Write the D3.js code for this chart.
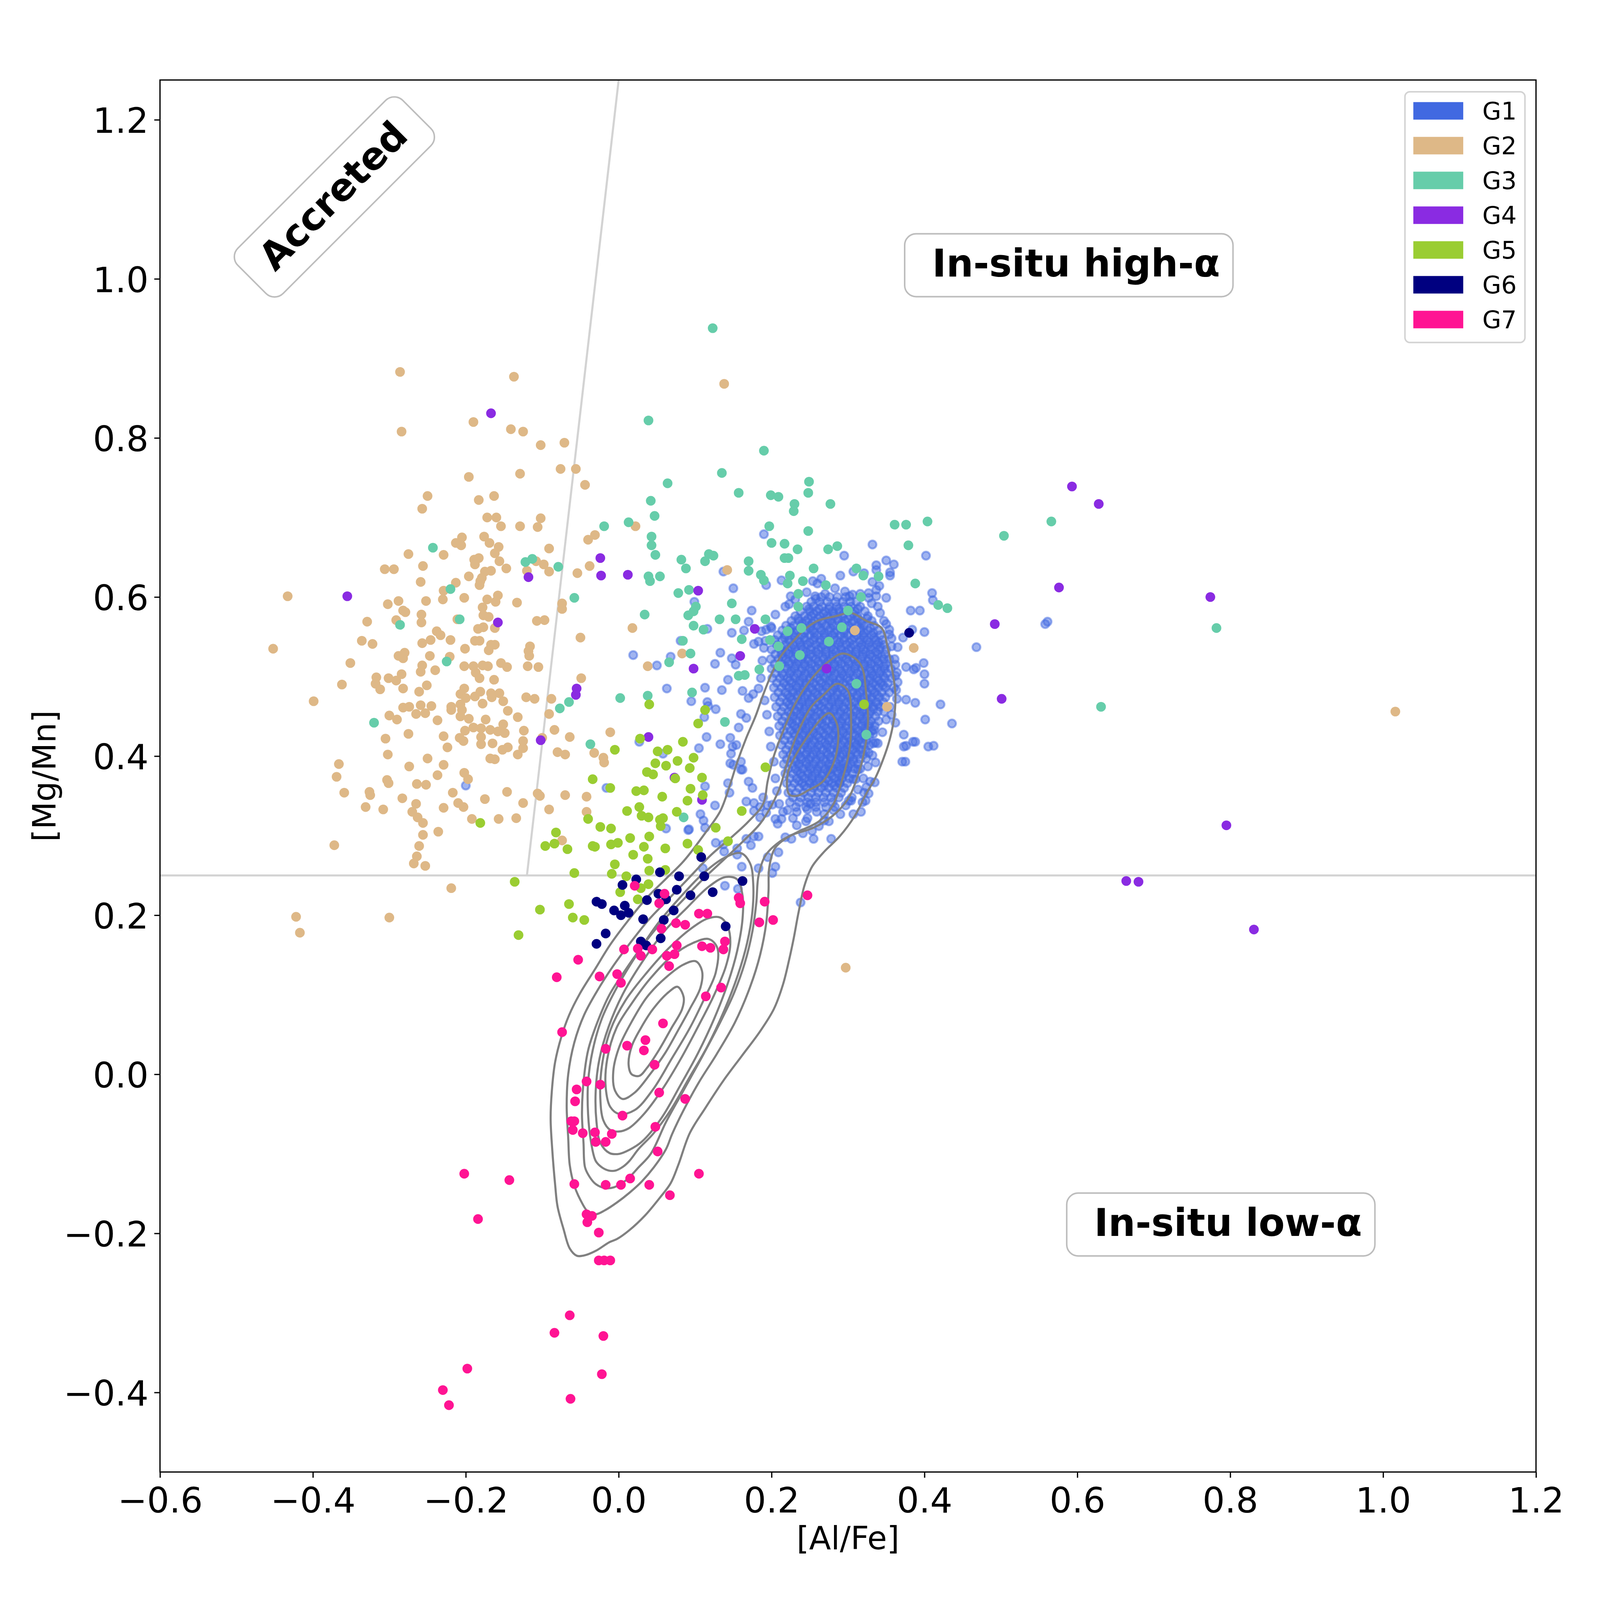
<!DOCTYPE html>
<html>
<head>
<meta charset="utf-8">
<script src="https://cdn.jsdelivr.net/npm/d3@7/dist/d3.min.js"></script>
<style>
  html, body { margin: 0; padding: 0; background: #fff; overflow: hidden; }
  svg { display: block; width: 100vw; height: 100vh; }
</style>
</head>
<body>
<script>
const W = 4200, H = 4200;
const M = { left: 420, right: 4032, top: 210, bottom: 3864 };
const FONT = '"DejaVu Sans", sans-serif';

const xDomain = [-0.6, 1.2];
const yDomain = [-0.5, 1.25];
const xTicks = [-0.6, -0.4, -0.2, 0.0, 0.2, 0.4, 0.6, 0.8, 1.0, 1.2];
const yTicks = [-0.4, -0.2, 0.0, 0.2, 0.4, 0.6, 0.8, 1.0, 1.2];

const groups = ['G1', 'G2', 'G3', 'G4', 'G5', 'G6', 'G7'];
const colors = {
  G1: '#4169e1', G2: '#deb887', G3: '#66cdaa', G4: '#8a2be2',
  G5: '#9acd32', G6: '#000080', G7: '#ff1493',
};

// [Al/Fe], [Mg/Mn]
const g1Sparse = [
  [0.190,0.679],[0.332,0.666],[0.295,0.652],[0.350,0.646],[0.360,0.641],[0.337,0.640],[0.402,0.652],[0.355,0.631],
  [0.355,0.627],[0.337,0.634],[0.290,0.627],[0.307,0.632],[0.321,0.630],[0.213,0.621],[0.265,0.623],[0.254,0.620],
  [0.260,0.617],[0.193,0.615],[0.150,0.611],[0.137,0.632],[0.332,0.619],[0.341,0.614],[0.337,0.609],[0.410,0.605],
  [0.411,0.596],[0.350,0.599],[0.327,0.605],[0.327,0.599],[0.337,0.601],[0.296,0.607],[0.302,0.601],[0.306,0.603],
  [0.270,0.604],[0.257,0.601],[0.258,0.598],[0.225,0.601],[0.223,0.591],[0.099,0.594],[0.174,0.583],[0.148,0.555],
  [0.164,0.558],[0.170,0.569],[0.116,0.560],[0.382,0.583],[0.394,0.583],[0.339,0.588],[0.347,0.570],[0.357,0.548],
  [0.354,0.559],[0.354,0.553],[0.400,0.556],[0.372,0.549],[0.365,0.537],[0.384,0.559],[0.376,0.512],[0.386,0.509],
  [0.389,0.511],[0.399,0.517],[0.400,0.503],[0.400,0.491],[0.388,0.467],[0.421,0.465],[0.436,0.441],[0.401,0.446],
  [0.373,0.427],[0.388,0.418],[0.412,0.413],[0.376,0.413],[0.375,0.393],[0.468,0.537],[0.561,0.569],[0.362,0.515],
  [0.362,0.501],[0.365,0.493],[0.363,0.483],[0.364,0.472],[0.376,0.471],[0.357,0.452],[0.362,0.442],[0.336,0.417],
  [0.334,0.433],[0.323,0.425],[0.327,0.404],[0.324,0.397],[0.336,0.392],[0.316,0.384],[0.310,0.371],[0.324,0.361],
  [0.327,0.353],[0.323,0.344],[0.304,0.344],[0.335,0.367],[0.050,0.514],[0.019,0.527],[0.063,0.485],[0.068,0.525],
  [0.081,0.545],[0.116,0.468],[0.117,0.463],[0.113,0.486],[0.126,0.516],[0.133,0.530],[0.135,0.483],[0.127,0.459],
  [0.112,0.449],[0.148,0.523],[0.153,0.515],[0.143,0.496],[0.162,0.482],[0.160,0.453],[0.167,0.448],[0.157,0.436],
  [0.146,0.423],[0.154,0.414],[0.147,0.403],[0.150,0.389],[0.162,0.383],[0.170,0.473],[0.176,0.478],[0.183,0.485],
  [0.187,0.557],[0.193,0.559],[0.200,0.561],[0.177,0.541],[0.183,0.544],[0.190,0.536],[0.558,0.566],
  [-0.200,0.363],[0.027,0.418],[0.058,0.403],[-0.016,0.360],[0.062,0.309],[0.092,0.308],[0.095,0.469],
  [0.138,0.280],[0.127,0.291],[0.137,0.289],[0.155,0.284],[0.155,0.276],[0.167,0.296],[0.173,0.288],[0.177,0.299],
  [0.183,0.299],[0.161,0.261],[0.183,0.259],[0.195,0.273],[0.205,0.261],[0.209,0.279],[0.201,0.253],[0.218,0.298],
  [0.226,0.296],[0.241,0.303],[0.255,0.296],[0.233,0.313],[0.213,0.321],[0.208,0.315],[0.247,0.322],[0.269,0.319],
  [0.278,0.296],[0.253,0.306],[0.139,0.237],[0.156,0.233],[0.238,0.216],[0.405,0.412],[0.373,0.412],[0.371,0.393],
  [0.385,0.418],[0.333,0.416],[0.333,0.428],[0.329,0.368],[0.321,0.354],[0.319,0.342],[0.317,0.330],[0.307,0.327],
  [0.301,0.344],[0.313,0.383],[0.307,0.371],[0.295,0.385],[0.289,0.366],[0.277,0.383],[0.170,0.368],[0.175,0.360],
  [0.167,0.343],[0.177,0.341],[0.177,0.331],[0.185,0.336],[0.189,0.348],[0.195,0.338],[0.201,0.339],[0.185,0.323],
  [0.193,0.329],[0.205,0.321],[0.221,0.332],[0.233,0.330],[0.247,0.333],[0.251,0.340],[0.259,0.330],[0.269,0.327],
  [0.281,0.332],[0.115,0.424],[0.105,0.410],[0.133,0.415],[0.149,0.412],[0.160,0.393],[0.160,0.383],[0.146,0.391],
  [0.143,0.366],[0.145,0.354],[0.126,0.338],[0.113,0.362],[0.107,0.327],[0.113,0.310],[0.091,0.307],[0.111,0.319],
  [0.110,0.259],
  // fringe round the dense core
  [0.188,0.520],[0.186,0.498],[0.191,0.470],[0.194,0.452],[0.197,0.431],[0.199,0.412],[0.203,0.393],[0.205,0.372],
  [0.207,0.356],[0.210,0.340],[0.215,0.330],[0.192,0.545],[0.199,0.563],[0.205,0.578],[0.218,0.588],[0.231,0.597],
  [0.246,0.606],[0.283,0.611],[0.316,0.604],[0.331,0.592],[0.342,0.580],[0.350,0.566],[0.357,0.538],[0.361,0.522],
  [0.364,0.505],[0.360,0.486],[0.355,0.462],[0.350,0.446],[0.345,0.430],[0.339,0.416],[0.332,0.401],[0.326,0.387],
  [0.320,0.372],[0.313,0.358],[0.305,0.348],[0.297,0.338],[0.290,0.327],[0.275,0.318],[0.262,0.312],[0.245,0.318],
  [0.228,0.322],
];

// dense G1 core, read row by row: [Mg/Mn], list of [Al/Fe]
const g1CoreRows = [
  [0.600, [0.265,0.276,0.286,0.297]],
  [0.594, [0.252,0.263,0.273,0.284,0.293,0.303,0.311]],
  [0.588, [0.246,0.255,0.266,0.276,0.285,0.295,0.304,0.316]],
  [0.582, [0.238,0.250,0.259,0.270,0.280,0.289,0.300,0.309,0.322]],
  [0.576, [0.231,0.243,0.252,0.263,0.273,0.282,0.293,0.303,0.312,0.326]],
  [0.570, [0.226,0.236,0.245,0.256,0.266,0.277,0.287,0.296,0.307,0.317,0.331]],
  [0.564, [0.219,0.229,0.240,0.251,0.260,0.271,0.281,0.292,0.301,0.312,0.321,0.334]],
  [0.558, [0.214,0.224,0.234,0.245,0.254,0.265,0.275,0.286,0.295,0.306,0.316,0.326,0.339]],
  [0.552, [0.208,0.218,0.229,0.239,0.250,0.259,0.270,0.280,0.290,0.300,0.311,0.320,0.331,0.342]],
  [0.546, [0.204,0.214,0.223,0.234,0.244,0.255,0.264,0.275,0.285,0.295,0.305,0.316,0.325,0.336,0.345]],
  [0.540, [0.207,0.218,0.228,0.238,0.247,0.258,0.268,0.277,0.288,0.298,0.307,0.318,0.327,0.338,0.347]],
  [0.534, [0.200,0.211,0.221,0.231,0.241,0.251,0.261,0.271,0.281,0.291,0.301,0.311,0.320,0.330,0.341,0.350]],
  [0.528, [0.205,0.213,0.222,0.232,0.242,0.251,0.261,0.271,0.280,0.291,0.300,0.310,0.320,0.329,0.339,0.348]],
  [0.522, [0.199,0.209,0.219,0.229,0.239,0.248,0.258,0.268,0.278,0.288,0.298,0.308,0.317,0.327,0.337,0.347,0.354]],
  [0.516, [0.204,0.213,0.223,0.233,0.243,0.252,0.262,0.272,0.282,0.291,0.301,0.311,0.321,0.330,0.340,0.350]],
  [0.510, [0.200,0.210,0.220,0.230,0.240,0.250,0.260,0.269,0.279,0.289,0.299,0.309,0.319,0.329,0.338,0.348,0.356]],
  [0.504, [0.205,0.214,0.224,0.234,0.244,0.253,0.263,0.273,0.283,0.292,0.302,0.312,0.322,0.331,0.341,0.351]],
  [0.498, [0.201,0.211,0.221,0.231,0.241,0.250,0.260,0.270,0.280,0.290,0.299,0.309,0.319,0.329,0.338,0.348,0.357]],
  [0.492, [0.207,0.216,0.226,0.236,0.245,0.255,0.265,0.275,0.284,0.294,0.304,0.314,0.323,0.333,0.343,0.352]],
  [0.486, [0.203,0.213,0.223,0.233,0.243,0.252,0.262,0.272,0.282,0.291,0.301,0.311,0.321,0.330,0.340,0.349]],
  [0.480, [0.209,0.218,0.228,0.238,0.247,0.257,0.267,0.277,0.286,0.296,0.306,0.316,0.325,0.335,0.344,0.354]],
  [0.474, [0.204,0.214,0.224,0.234,0.243,0.253,0.263,0.273,0.282,0.292,0.302,0.312,0.321,0.331,0.341,0.349]],
  [0.468, [0.211,0.220,0.230,0.240,0.249,0.259,0.269,0.279,0.288,0.298,0.308,0.318,0.327,0.337,0.346]],
  [0.462, [0.206,0.216,0.226,0.236,0.245,0.255,0.265,0.275,0.284,0.294,0.304,0.314,0.323,0.333,0.342]],
  [0.456, [0.213,0.222,0.232,0.242,0.251,0.261,0.271,0.281,0.290,0.300,0.310,0.320,0.329,0.339,0.347]],
  [0.450, [0.208,0.218,0.228,0.238,0.247,0.257,0.267,0.277,0.286,0.296,0.306,0.316,0.325,0.336]],
  [0.444, [0.214,0.223,0.233,0.243,0.252,0.262,0.272,0.282,0.291,0.301,0.311,0.321,0.330,0.340]],
  [0.438, [0.210,0.220,0.230,0.240,0.249,0.259,0.269,0.279,0.288,0.298,0.308,0.318,0.327,0.335]],
  [0.432, [0.216,0.225,0.235,0.245,0.254,0.264,0.274,0.284,0.293,0.303,0.313,0.323,0.331]],
  [0.426, [0.211,0.221,0.231,0.241,0.250,0.260,0.270,0.280,0.289,0.299,0.309,0.319,0.328]],
  [0.420, [0.217,0.226,0.236,0.246,0.255,0.265,0.275,0.285,0.294,0.304,0.314,0.324]],
  [0.414, [0.213,0.223,0.233,0.243,0.252,0.262,0.272,0.282,0.291,0.301,0.311,0.321,0.328]],
  [0.408, [0.219,0.228,0.238,0.248,0.257,0.267,0.277,0.287,0.296,0.306,0.316,0.323]],
  [0.402, [0.215,0.225,0.235,0.245,0.254,0.264,0.274,0.284,0.293,0.303,0.313,0.320]],
  [0.396, [0.220,0.229,0.239,0.249,0.258,0.268,0.278,0.288,0.297,0.307,0.316]],
  [0.390, [0.216,0.226,0.236,0.246,0.255,0.265,0.275,0.285,0.294,0.304,0.313]],
  [0.384, [0.222,0.231,0.241,0.251,0.260,0.270,0.280,0.290,0.299,0.309]],
  [0.378, [0.218,0.228,0.238,0.248,0.257,0.267,0.277,0.287,0.296,0.306]],
  [0.372, [0.224,0.233,0.243,0.253,0.262,0.272,0.282,0.292,0.302]],
  [0.366, [0.220,0.230,0.240,0.250,0.259,0.269,0.279,0.289,0.299]],
  [0.360, [0.226,0.236,0.246,0.255,0.265,0.275,0.285,0.295]],
  [0.354, [0.222,0.232,0.242,0.252,0.261,0.271,0.281,0.291]],
  [0.348, [0.228,0.238,0.248,0.258,0.268,0.278,0.288]],
  [0.342, [0.224,0.236,0.247,0.258,0.269,0.280]],
  [0.336, [0.232,0.245,0.258,0.271,0.283]],
  // second layer in the middle of the clump
  [0.579, [0.255,0.268,0.281,0.294,0.307]],
  [0.567, [0.240,0.253,0.266,0.279,0.292,0.305,0.318]],
  [0.555, [0.230,0.243,0.256,0.269,0.282,0.295,0.308,0.321,0.333]],
  [0.543, [0.224,0.237,0.250,0.263,0.276,0.289,0.302,0.315,0.328,0.340]],
  [0.531, [0.219,0.232,0.245,0.258,0.271,0.284,0.297,0.310,0.323,0.336]],
  [0.519, [0.222,0.235,0.248,0.261,0.274,0.287,0.300,0.313,0.326,0.339]],
  [0.507, [0.226,0.239,0.252,0.265,0.278,0.291,0.304,0.317,0.330,0.343]],
  [0.495, [0.224,0.237,0.250,0.263,0.276,0.289,0.302,0.315,0.328,0.340]],
  [0.483, [0.228,0.241,0.254,0.267,0.280,0.293,0.306,0.319,0.332]],
  [0.471, [0.226,0.239,0.252,0.265,0.278,0.291,0.304,0.317,0.330]],
  [0.459, [0.230,0.243,0.256,0.269,0.282,0.295,0.308,0.321,0.333]],
  [0.447, [0.228,0.241,0.254,0.267,0.280,0.293,0.306,0.319]],
  [0.435, [0.232,0.245,0.258,0.271,0.284,0.297,0.310,0.322]],
  [0.423, [0.236,0.249,0.262,0.275,0.288,0.301,0.314]],
  [0.411, [0.234,0.247,0.260,0.273,0.286,0.299,0.311]],
  [0.399, [0.238,0.251,0.264,0.277,0.290,0.303]],
  [0.387, [0.236,0.249,0.262,0.275,0.288,0.300]],
  [0.375, [0.240,0.253,0.266,0.279,0.292]],
  [0.363, [0.243,0.256,0.269,0.282]],
  // third layer, where the clump is fully saturated
  [0.585, [0.249,0.262,0.275,0.288,0.301,0.313]],
  [0.573, [0.235,0.248,0.261,0.274,0.287,0.300,0.313,0.325]],
  [0.561, [0.225,0.238,0.251,0.264,0.277,0.290,0.303,0.316,0.329]],
  [0.549, [0.217,0.230,0.243,0.256,0.269,0.282,0.295,0.308,0.321,0.334]],
  [0.537, [0.213,0.226,0.239,0.252,0.265,0.278,0.291,0.304,0.317,0.330,0.342]],
  [0.525, [0.215,0.228,0.241,0.254,0.267,0.280,0.293,0.306,0.319,0.332,0.344]],
  [0.513, [0.218,0.231,0.244,0.257,0.270,0.283,0.296,0.309,0.322,0.335,0.347]],
  [0.501, [0.216,0.229,0.242,0.255,0.268,0.281,0.294,0.307,0.320,0.333,0.346]],
  [0.489, [0.219,0.232,0.245,0.258,0.271,0.284,0.297,0.310,0.323,0.336,0.346]],
  [0.477, [0.221,0.234,0.247,0.260,0.273,0.286,0.299,0.312,0.325,0.338]],
  [0.465, [0.223,0.236,0.249,0.262,0.275,0.288,0.301,0.314,0.327,0.339]],
  [0.453, [0.225,0.238,0.251,0.264,0.277,0.290,0.303,0.316,0.328]],
  [0.441, [0.227,0.240,0.253,0.266,0.279,0.292,0.305,0.318,0.328]],
  [0.429, [0.229,0.242,0.255,0.268,0.281,0.294,0.307,0.319]],
  [0.417, [0.231,0.244,0.257,0.270,0.283,0.296,0.309,0.318]],
  [0.405, [0.233,0.246,0.259,0.272,0.285,0.298,0.310]],
  [0.393, [0.232,0.245,0.258,0.271,0.284,0.297,0.307]],
  [0.381, [0.234,0.247,0.260,0.273,0.286,0.298]],
  [0.369, [0.236,0.249,0.262,0.275,0.288]],
];

const g2 = [
  [-0.286,0.883],[-0.137,0.877],[-0.190,0.820],[-0.284,0.808],[-0.141,0.811],[-0.125,0.808],[-0.102,0.791],[-0.071,0.794],
  [-0.196,0.751],[-0.076,0.761],[-0.056,0.761],[-0.129,0.755],[-0.044,0.741],[-0.250,0.727],[-0.183,0.722],[-0.163,0.727],
  [-0.257,0.711],[-0.172,0.700],[-0.160,0.700],[-0.102,0.699],[-0.154,0.689],[-0.129,0.689],[-0.106,0.688],[0.022,0.689],
  [-0.031,0.678],[-0.040,0.672],[-0.205,0.675],[-0.176,0.676],[-0.213,0.668],[-0.206,0.665],[-0.169,0.668],[-0.157,0.663],
  [-0.091,0.661],[-0.275,0.654],[-0.229,0.653],[-0.162,0.655],[-0.189,0.647],[-0.183,0.649],[-0.108,0.645],[-0.306,0.635],
  [-0.294,0.635],[-0.256,0.639],[-0.188,0.641],[-0.156,0.645],[-0.147,0.636],[-0.098,0.641],[-0.120,0.633],[-0.091,0.632],
  [-0.167,0.633],[-0.175,0.632],[-0.038,0.639],[-0.054,0.630],[-0.196,0.626],[-0.179,0.624],[-0.181,0.620],[-0.259,0.619],
  [-0.182,0.615],[-0.213,0.618],[-0.229,0.608],[-0.230,0.597],[-0.202,0.599],[-0.172,0.597],[-0.158,0.602],[-0.161,0.594],
  [-0.133,0.593],[-0.433,0.601],[-0.302,0.591],[-0.288,0.595],[-0.282,0.583],[-0.279,0.581],[-0.252,0.595],[-0.258,0.578],
  [-0.178,0.587],[-0.177,0.577],[-0.170,0.575],[-0.074,0.592],[-0.074,0.585],[-0.329,0.569],[-0.291,0.571],[-0.258,0.568],
  [-0.211,0.572],[-0.184,0.560],[-0.177,0.562],[-0.162,0.561],[-0.107,0.570],[-0.097,0.571],[0.018,0.561],[-0.238,0.557],
  [-0.233,0.552],[-0.220,0.546],[-0.246,0.546],[-0.188,0.545],[-0.182,0.545],[-0.167,0.540],[-0.162,0.540],[-0.170,0.533],
  [-0.050,0.549],[-0.452,0.535],[-0.336,0.545],[-0.322,0.541],[-0.257,0.542],[-0.201,0.535],[-0.116,0.538],[-0.118,0.532],
  [-0.117,0.526],[-0.288,0.526],[-0.280,0.530],[-0.282,0.523],[-0.247,0.526],[-0.221,0.525],[-0.351,0.517],[-0.202,0.513],
  [-0.190,0.513],[-0.178,0.514],[-0.171,0.513],[-0.154,0.517],[-0.146,0.512],[-0.119,0.513],[-0.105,0.512],[-0.257,0.514],
  [-0.259,0.506],[-0.240,0.508],[-0.187,0.505],[-0.182,0.498],[-0.163,0.496],[-0.049,0.498],[0.038,0.513],[-0.362,0.490],
  [-0.317,0.499],[-0.301,0.498],[-0.291,0.495],[-0.312,0.484],[-0.318,0.491],[-0.284,0.503],[-0.282,0.485],[-0.261,0.481],
  [-0.251,0.489],[-0.202,0.485],[-0.207,0.478],[-0.200,0.473],[-0.181,0.481],[-0.188,0.475],[-0.167,0.479],[-0.166,0.474],
  [-0.156,0.479],[-0.151,0.469],[-0.399,0.469],[-0.259,0.464],[-0.282,0.461],[-0.274,0.462],[-0.265,0.453],[-0.253,0.454],
  [-0.245,0.463],[-0.219,0.462],[-0.207,0.465],[-0.219,0.458],[-0.205,0.458],[-0.178,0.466],[-0.145,0.457],[-0.132,0.449],
  [-0.121,0.474],[-0.110,0.472],[-0.088,0.472],[-0.091,0.453],[-0.300,0.451],[-0.290,0.446],[-0.207,0.450],[-0.196,0.447],
  [-0.237,0.445],[-0.174,0.446],[-0.151,0.440],[-0.201,0.432],[-0.190,0.436],[-0.180,0.435],[-0.168,0.433],[-0.158,0.431],
  [-0.149,0.429],[-0.124,0.432],[-0.084,0.433],[-0.275,0.428],[-0.305,0.422],[-0.229,0.425],[-0.208,0.423],[-0.203,0.419],
  [-0.180,0.424],[-0.180,0.415],[-0.165,0.416],[-0.125,0.419],[-0.100,0.423],[-0.064,0.424],[-0.011,0.430],[-0.224,0.411],
  [-0.152,0.408],[-0.145,0.411],[-0.125,0.410],[-0.132,0.402],[-0.168,0.397],[-0.162,0.396],[-0.250,0.397],[-0.080,0.405],
  [-0.070,0.402],[-0.032,0.404],[-0.020,0.398],[-0.019,0.392],[-0.302,0.402],[-0.366,0.390],[-0.369,0.374],[-0.274,0.387],
  [-0.229,0.389],[-0.303,0.370],[-0.301,0.366],[-0.237,0.376],[-0.202,0.379],[-0.197,0.371],[-0.264,0.365],[-0.252,0.364],
  [-0.359,0.354],[-0.326,0.355],[-0.325,0.351],[-0.283,0.347],[-0.217,0.354],[-0.146,0.355],[-0.106,0.353],[-0.103,0.350],
  [-0.070,0.351],[-0.042,0.349],[-0.331,0.336],[-0.308,0.333],[-0.265,0.340],[-0.229,0.335],[-0.210,0.341],[-0.203,0.336],
  [-0.175,0.346],[-0.125,0.341],[-0.091,0.333],[-0.042,0.330],[-0.270,0.330],[-0.263,0.323],[-0.256,0.316],[-0.192,0.321],
  [-0.157,0.321],[-0.134,0.322],[-0.074,0.294],[-0.372,0.288],[-0.256,0.301],[-0.236,0.305],[-0.261,0.287],[-0.264,0.274],
  [-0.268,0.265],[-0.253,0.262],[-0.219,0.234],[-0.422,0.198],[-0.300,0.197],[-0.417,0.178],[0.083,0.529],[0.138,0.868],
  [0.142,0.634],[0.309,0.558],[0.386,0.536],[0.351,0.462],[0.297,0.134],[1.016,0.456],
];

const g3 = [
  [0.039,0.822],[0.064,0.743],[0.042,0.721],[0.047,0.702],[0.013,0.694],[-0.019,0.689],[0.043,0.676],[0.043,0.665],
  [0.048,0.653],[0.082,0.647],[0.088,0.636],[0.039,0.626],[0.041,0.620],[0.054,0.626],[-0.122,0.644],[-0.113,0.648],
  [-0.079,0.638],[-0.243,0.662],[-0.220,0.610],[-0.208,0.572],[-0.286,0.565],[-0.225,0.519],[-0.320,0.442],[-0.058,0.599],
  [0.078,0.605],[0.092,0.609],[0.034,0.578],[0.091,0.577],[0.084,0.545],[0.066,0.518],[-0.077,0.460],[-0.065,0.468],
  [0.002,0.473],[0.038,0.476],[-0.037,0.415],[0.085,0.323],[0.123,0.938],[0.190,0.784],[0.135,0.756],[0.249,0.745],
  [0.157,0.731],[0.199,0.728],[0.209,0.726],[0.248,0.731],[0.230,0.717],[0.229,0.708],[0.277,0.717],[0.197,0.689],
  [0.248,0.683],[0.200,0.668],[0.217,0.667],[0.234,0.660],[0.274,0.660],[0.286,0.664],[0.361,0.691],[0.376,0.691],
  [0.404,0.695],[0.379,0.665],[0.504,0.677],[0.566,0.695],[0.113,0.645],[0.118,0.654],[0.124,0.652],[0.170,0.645],
  [0.170,0.633],[0.186,0.628],[0.190,0.621],[0.217,0.649],[0.222,0.649],[0.224,0.627],[0.221,0.617],[0.241,0.620],
  [0.255,0.636],[0.271,0.615],[0.311,0.636],[0.320,0.627],[0.340,0.626],[0.388,0.617],[0.418,0.590],[0.430,0.586],
  [0.317,0.600],[0.235,0.604],[0.235,0.588],[0.300,0.583],[0.292,0.562],[0.148,0.592],[0.132,0.572],[0.153,0.572],
  [0.192,0.572],[0.098,0.582],[0.101,0.588],[0.098,0.564],[0.111,0.559],[0.094,0.529],[0.161,0.547],[0.221,0.557],
  [0.239,0.561],[0.198,0.546],[0.209,0.538],[0.237,0.527],[0.275,0.544],[0.184,0.509],[0.157,0.501],[0.165,0.502],
  [0.210,0.513],[0.311,0.491],[0.096,0.480],[0.139,0.443],[0.324,0.427],[0.782,0.561],[0.631,0.462],
];

const g4 = [
  [-0.167,0.831],[-0.355,0.601],[-0.118,0.625],[-0.158,0.568],[-0.024,0.649],[-0.023,0.627],[0.012,0.628],[-0.055,0.485],
  [-0.056,0.477],[-0.102,0.420],[0.039,0.424],[0.104,0.608],[0.178,0.560],[0.159,0.526],[0.098,0.510],[0.272,0.510],
  [0.073,0.373],[0.109,0.345],[0.492,0.566],[0.576,0.612],[0.593,0.739],[0.501,0.472],[0.628,0.717],[0.774,0.600],
  [0.795,0.313],[0.664,0.243],[0.680,0.242],[0.831,0.182],
];

const g5 = [
  [-0.181,0.316],[0.040,0.465],[0.028,0.422],[-0.005,0.408],[0.084,0.418],[0.051,0.406],[0.064,0.408],[0.048,0.391],
  [0.062,0.388],[0.077,0.394],[0.037,0.380],[0.045,0.377],[0.074,0.372],[-0.034,0.371],[-0.011,0.360],[0.023,0.356],
  [0.033,0.357],[0.057,0.349],[0.090,0.344],[0.027,0.336],[0.011,0.331],[0.076,0.330],[0.030,0.325],[0.039,0.323],
  [0.054,0.320],[0.058,0.322],[-0.040,0.321],[-0.024,0.311],[-0.010,0.309],[0.055,0.312],[-0.082,0.304],[0.015,0.297],
  [0.040,0.299],[-0.096,0.287],[-0.084,0.290],[-0.067,0.283],[-0.034,0.287],[-0.031,0.286],[-0.010,0.289],[-0.001,0.291],
  [0.019,0.276],[0.033,0.286],[0.061,0.284],[0.090,0.290],[0.038,0.271],[-0.005,0.264],[-0.058,0.253],[0.040,0.256],
  [-0.009,0.252],[0.010,0.249],[0.061,0.257],[0.029,0.234],[0.039,0.239],[-0.136,0.242],[0.002,0.229],[0.025,0.220],
  [-0.103,0.207],[-0.065,0.214],[-0.060,0.197],[-0.045,0.194],[0.098,0.398],[0.093,0.385],[0.109,0.373],[0.094,0.359],
  [0.110,0.351],[0.127,0.310],[0.161,0.331],[0.192,0.386],[0.143,0.293],[0.104,0.282],[-0.131,0.175],[0.113,0.458],
  [0.104,0.441],[0.321,0.465],
];

const g6 = [
  [0.054,0.254],[0.079,0.249],[0.023,0.245],[0.005,0.238],[0.052,0.227],[0.076,0.232],[0.037,0.219],[0.062,0.220],
  [-0.029,0.217],[-0.022,0.214],[0.008,0.212],[-0.006,0.206],[0.003,0.200],[0.013,0.203],[0.072,0.206],[0.032,0.195],
  [0.059,0.194],[0.108,0.273],[0.112,0.249],[0.162,0.243],[0.094,0.225],[0.123,0.229],[0.140,0.186],[-0.017,0.177],
  [-0.029,0.164],[0.029,0.167],[0.036,0.162],[0.055,0.171],[0.380,0.555],
];

const g7 = [
  [0.021,0.237],[0.060,0.227],[0.053,0.215],[0.157,0.222],[0.159,0.215],[0.191,0.217],[0.247,0.225],[0.105,0.202],
  [0.116,0.202],[0.184,0.191],[0.202,0.194],[0.075,0.190],[0.087,0.188],[0.056,0.183],[0.139,0.167],[0.137,0.157],
  [0.109,0.161],[0.120,0.159],[0.076,0.162],[0.044,0.157],[0.025,0.158],[0.029,0.149],[0.063,0.149],[0.073,0.151],
  [0.007,0.157],[0.066,0.136],[-0.053,0.144],[-0.081,0.122],[-0.025,0.123],[-0.002,0.126],[0.003,0.115],[0.134,0.109],
  [0.114,0.098],[0.058,0.064],[0.035,0.043],[0.033,0.030],[0.011,0.036],[-0.017,0.032],[-0.074,0.053],[0.047,0.012],
  [-0.042,-0.009],[-0.024,-0.013],[-0.055,-0.019],[-0.057,-0.034],[0.053,-0.023],[0.087,-0.031],[0.005,-0.052],[-0.062,-0.059],
  [-0.058,-0.059],[-0.060,-0.070],[-0.047,-0.074],[-0.031,-0.073],[-0.030,-0.085],[-0.017,-0.085],[-0.009,-0.075],[0.048,-0.066],
  [0.051,-0.097],[-0.058,-0.138],[-0.017,-0.139],[0.003,-0.139],[0.015,-0.131],[0.040,-0.139],[0.105,-0.125],[0.067,-0.152],
  [-0.042,-0.176],[-0.035,-0.178],[-0.041,-0.186],[-0.202,-0.125],[-0.143,-0.133],[-0.184,-0.182],[-0.026,-0.199],[-0.026,-0.234],
  [-0.019,-0.234],[-0.011,-0.234],[-0.064,-0.303],[-0.084,-0.325],[-0.020,-0.329],[-0.198,-0.370],[-0.022,-0.377],[-0.230,-0.397],
  [-0.063,-0.408],[-0.222,-0.416],
];

// density contours, outermost first
const contours = [
  [[-0.046,-0.228],[-0.055,-0.228],[-0.064,-0.219],[-0.072,-0.195],[-0.080,-0.166],[-0.083,-0.140],[-0.087,-0.093],[-0.089,-0.055],
   [-0.087,-0.016],[-0.083,0.016],[-0.075,0.047],[-0.065,0.074],[-0.051,0.101],[-0.031,0.132],[-0.011,0.163],[0.013,0.194],
   [0.037,0.222],[0.061,0.245],[0.085,0.268],[0.113,0.303],[0.133,0.331],[0.145,0.362],[0.155,0.392],[0.167,0.423],
   [0.179,0.450],[0.189,0.477],[0.199,0.501],[0.211,0.524],[0.227,0.543],[0.243,0.559],[0.260,0.570],[0.284,0.576],
   [0.304,0.580],[0.324,0.570],[0.344,0.561],[0.352,0.536],[0.358,0.508],[0.362,0.477],[0.360,0.446],[0.354,0.419],
   [0.346,0.396],[0.336,0.373],[0.324,0.353],[0.309,0.325],[0.289,0.299],[0.269,0.280],[0.253,0.261],[0.243,0.237],
   [0.235,0.202],[0.229,0.171],[0.223,0.144],[0.215,0.113],[0.203,0.082],[0.185,0.054],[0.161,0.023],[0.137,-0.008],
   [0.113,-0.043],[0.093,-0.074],[0.078,-0.114],[0.068,-0.137],[0.054,-0.155],[0.034,-0.178],[0.014,-0.196],[-0.002,-0.207],
   [-0.012,-0.211],[-0.030,-0.222]],
  [[-0.030,-0.176],[-0.040,-0.173],[-0.050,-0.158],[-0.058,-0.140],[-0.064,-0.114],[-0.066,-0.080],[-0.068,-0.040],[-0.066,0.000],
   [-0.058,0.040],[-0.045,0.075],[-0.028,0.105],[-0.008,0.135],[0.015,0.165],[0.040,0.195],[0.065,0.220],[0.090,0.245],
   [0.120,0.275],[0.150,0.300],[0.170,0.318],[0.189,0.340],[0.195,0.369],[0.203,0.400],[0.215,0.431],[0.231,0.466],
   [0.252,0.497],[0.276,0.520],[0.294,0.529],[0.316,0.516],[0.324,0.477],[0.326,0.439],[0.320,0.400],[0.312,0.373],
   [0.300,0.346],[0.280,0.325],[0.255,0.310],[0.225,0.300],[0.205,0.285],[0.197,0.260],[0.196,0.230],[0.193,0.190],
   [0.185,0.150],[0.172,0.110],[0.152,0.065],[0.128,0.025],[0.105,-0.010],[0.085,-0.045],[0.070,-0.075],[0.062,-0.094],
   [0.046,-0.117],[0.030,-0.135],[0.014,-0.149],[-0.002,-0.161],[-0.018,-0.171]],
  [[-0.018,-0.143],[-0.030,-0.138],[-0.038,-0.129],[-0.044,-0.117],[-0.046,-0.086],[-0.048,-0.050],[-0.046,-0.010],[-0.040,0.030],
   [-0.028,0.065],[-0.012,0.100],[0.008,0.130],[0.030,0.160],[0.055,0.190],[0.080,0.215],[0.110,0.245],[0.140,0.272],
   [0.165,0.295],[0.185,0.315],[0.200,0.338],[0.211,0.361],[0.223,0.400],[0.235,0.431],[0.252,0.462],[0.268,0.477],
   [0.286,0.491],[0.300,0.482],[0.304,0.446],[0.302,0.408],[0.292,0.369],[0.280,0.338],[0.262,0.318],[0.235,0.305],
   [0.210,0.292],[0.192,0.275],[0.183,0.250],[0.180,0.215],[0.175,0.180],[0.165,0.140],[0.150,0.100],[0.130,0.060],
   [0.108,0.020],[0.085,-0.020],[0.062,-0.060],[0.042,-0.100],[0.026,-0.117],[0.010,-0.133],[-0.006,-0.142]],
  [[0.276,0.454],[0.286,0.439],[0.284,0.400],[0.268,0.369],[0.248,0.357],[0.233,0.350],[0.223,0.352],[0.221,0.377],
   [0.231,0.400],[0.252,0.431],[0.268,0.450]],
  [[-0.004,-0.121],[-0.013,-0.121],[-0.022,-0.117],[-0.030,-0.109],[-0.036,-0.086],[-0.040,-0.050],[-0.040,-0.010],[-0.034,0.030],
   [-0.022,0.070],[-0.003,0.108],[0.022,0.148],[0.050,0.188],[0.080,0.222],[0.110,0.252],[0.138,0.272],[0.160,0.278],
   [0.172,0.265],[0.176,0.240],[0.175,0.205],[0.168,0.165],[0.156,0.125],[0.138,0.080],[0.116,0.035],[0.092,-0.005],
   [0.068,-0.045],[0.045,-0.075],[0.026,-0.094],[0.014,-0.109],[0.006,-0.116]],
  [[0.001,-0.100],[-0.012,-0.099],[-0.024,-0.086],[-0.029,-0.060],[-0.030,-0.020],[-0.025,0.020],[-0.013,0.060],[0.005,0.100],
   [0.030,0.140],[0.060,0.180],[0.090,0.210],[0.118,0.236],[0.140,0.248],[0.155,0.245],[0.162,0.225],[0.162,0.195],
   [0.155,0.155],[0.143,0.115],[0.125,0.070],[0.104,0.027],[0.080,-0.015],[0.056,-0.055],[0.030,-0.085],[0.014,-0.095]],
  [[0.000,-0.072],[-0.011,-0.070],[-0.020,-0.058],[-0.024,-0.030],[-0.022,0.010],[-0.011,0.055],[0.009,0.093],[0.037,0.128],
   [0.065,0.158],[0.093,0.182],[0.117,0.196],[0.133,0.197],[0.143,0.185],[0.146,0.163],[0.140,0.135],[0.125,0.100],
   [0.105,0.062],[0.081,0.019],[0.057,-0.019],[0.033,-0.050],[0.013,-0.068]],
  [[0.001,-0.050],[-0.011,-0.041],[-0.017,-0.016],[-0.015,0.019],[-0.003,0.058],[0.017,0.089],[0.041,0.120],[0.069,0.148],
   [0.097,0.165],[0.118,0.170],[0.129,0.159],[0.127,0.128],[0.113,0.097],[0.093,0.058],[0.069,0.019],[0.045,-0.019],
   [0.021,-0.045]],
  [[0.005,-0.031],[-0.005,-0.020],[-0.007,0.004],[0.001,0.035],[0.017,0.066],[0.037,0.097],[0.061,0.121],[0.085,0.138],
   [0.101,0.142],[0.109,0.130],[0.107,0.109],[0.093,0.082],[0.077,0.054],[0.061,0.027],[0.041,0.000],[0.021,-0.023]],
  [[0.017,0.000],[0.013,0.012],[0.017,0.035],[0.029,0.058],[0.045,0.082],[0.065,0.103],[0.077,0.110],[0.085,0.097],
   [0.083,0.082],[0.069,0.058],[0.053,0.031],[0.037,0.008],[0.027,-0.002]],
];

// region boundaries
const boundaryLines = [
  [[-0.6, 0.25], [1.2, 0.25]],
  [[-0.12, 0.25], [0.0, 1.25]],
];

const regionLabels = [
  { text: 'In-situ high-\u03b1', at: [0.410, 1.003], rotate: 0 },
  { text: 'In-situ low-\u03b1', at: [0.622, -0.203], rotate: 0 },
  { text: 'Accreted', at: [-0.374, 1.105], rotate: -45 },
];

const g1 = g1Sparse.concat(...g1CoreRows.map(([my, xs]) => xs.map(a => [a, my])));
const series = { G1: g1, G2: g2, G3: g3, G4: g4, G5: g5, G6: g6, G7: g7 };

const x = d3.scaleLinear().domain(xDomain).range([M.left, M.right]);
const y = d3.scaleLinear().domain(yDomain).range([M.bottom, M.top]);
const fmt = v => d3.format('.1f')(v).replace('-', '\u2212');

const svg = d3.select('body').append('svg')
  .attr('viewBox', `0 0 ${W} ${H}`)
  .attr('preserveAspectRatio', 'xMidYMid meet')
  .attr('font-family', FONT);
svg.append('rect').attr('width', W).attr('height', H).attr('fill', '#fff');

svg.append('clipPath').attr('id', 'plot-area')
  .append('rect')
  .attr('x', M.left).attr('y', M.top)
  .attr('width', M.right - M.left).attr('height', M.bottom - M.top);
const plot = svg.append('g').attr('clip-path', 'url(#plot-area)');

plot.selectAll('line.boundary')
  .data(boundaryLines)
  .enter()
  .append('line')
  .attr('class', 'boundary')
  .attr('x1', d => x(d[0][0])).attr('y1', d => y(d[0][1]))
  .attr('x2', d => x(d[1][0])).attr('y2', d => y(d[1][1]))
  .attr('stroke', '#d3d3d3')
  .attr('stroke-width', 5.5);

const drawGroup = (key) => {
  const isG1 = key === 'G1';
  plot.append('g').attr('class', `group-${key}`)
    .selectAll('circle')
    .data(series[key])
    .enter()
    .append('circle')
    .attr('cx', d => x(d[0]))
    .attr('cy', d => y(d[1]))
    .attr('r', isG1 ? 10.5 : 12)
    .attr('fill', colors[key])
    .attr('fill-opacity', isG1 ? 0.5 : 1)
    .attr('stroke', colors[key])
    .attr('stroke-opacity', isG1 ? 0.5 : 1)
    .attr('stroke-width', isG1 ? 5 : 1.5);
};

drawGroup('G1');

const contourLine = d3.line()
  .x(d => x(d[0]))
  .y(d => y(d[1]))
  .curve(d3.curveCatmullRomClosed.alpha(0.5));

plot.append('g').attr('class', 'contours')
  .selectAll('path')
  .data(contours)
  .enter()
  .append('path')
  .attr('d', contourLine)
  .attr('fill', 'none')
  .attr('stroke', '#808080')
  .attr('stroke-width', 5.5)
  .attr('stroke-linejoin', 'round');

groups.slice(1).forEach(drawGroup);

// region labels in rounded boxes
regionLabels.forEach((lab) => {
  const px = x(lab.at[0]), py = y(lab.at[1]);
  const g = svg.append('g');
  const t = g.append('text')
    .attr('font-size', 100)
    .attr('font-weight', 'bold')
    .attr('fill', '#000')
    .text(lab.text);
  const len = t.node().getComputedTextLength();
  if (lab.rotate) {
    g.attr('transform', `translate(${px},${py}) rotate(${lab.rotate})`);
    t.attr('text-anchor', 'middle').attr('x', 0).attr('y', 36);
    g.insert('rect', 'text')
      .attr('x', -len / 2 - 56).attr('y', -78)
      .attr('width', len + 112).attr('height', 168)
      .attr('rx', 32).attr('ry', 32);
  } else {
    g.attr('transform', `translate(${px},${py})`);
    t.attr('x', 0).attr('y', 0);
    g.insert('rect', 'text')
      .attr('x', -72).attr('y', -112)
      .attr('width', len + 106).attr('height', 165)
      .attr('rx', 30).attr('ry', 30);
  }
  g.select('rect')
    .attr('fill', '#fff')
    .attr('stroke', '#bdbdbd')
    .attr('stroke-width', 4);
});

// axes
const xAxis = d3.axisBottom(x).tickValues(xTicks).tickFormat(fmt)
  .tickSize(15).tickSizeOuter(0).tickPadding(26);
const gx = svg.append('g').attr('transform', `translate(0,${M.bottom})`).call(xAxis);
gx.select('.domain').remove();
gx.attr('font-size', 92).attr('font-family', FONT);
gx.selectAll('.tick line').attr('stroke', '#000').attr('stroke-width', 3.3);
gx.selectAll('.tick text').attr('fill', '#000');

const yAxis = d3.axisLeft(y).tickValues(yTicks).tickFormat(fmt)
  .tickSize(15).tickSizeOuter(0).tickPadding(15);
const gy = svg.append('g').attr('transform', `translate(${M.left},0)`).call(yAxis);
gy.select('.domain').remove();
gy.attr('font-size', 92).attr('font-family', FONT);
gy.selectAll('.tick line').attr('stroke', '#000').attr('stroke-width', 3.3);
gy.selectAll('.tick text').attr('fill', '#000').attr('dy', '0.37em');

svg.append('rect')
  .attr('x', M.left).attr('y', M.top)
  .attr('width', M.right - M.left).attr('height', M.bottom - M.top)
  .attr('fill', 'none').attr('stroke', '#000').attr('stroke-width', 3.3);

svg.append('text')
  .attr('x', (M.left + M.right) / 2).attr('y', 4067)
  .attr('text-anchor', 'middle').attr('font-size', 84).attr('fill', '#000')
  .text('[Al/Fe]');
svg.append('text')
  .attr('transform', `translate(146,${(M.top + M.bottom) / 2}) rotate(-90)`)
  .attr('text-anchor', 'middle').attr('font-size', 84).attr('fill', '#000')
  .text('[Mg/Mn]');

// legend
const lg = svg.append('g').attr('class', 'legend');
lg.append('rect')
  .attr('x', 3688).attr('y', 241).attr('width', 315).attr('height', 658)
  .attr('rx', 13).attr('ry', 13)
  .attr('fill', '#fff').attr('fill-opacity', 0.8)
  .attr('stroke', '#d3d3d3').attr('stroke-width', 4);
const rows = lg.selectAll('g.row')
  .data(groups)
  .enter()
  .append('g')
  .attr('class', 'row')
  .attr('transform', (d, i) => `translate(0,${291 + i * 91.3})`);
rows.append('rect')
  .attr('x', 3710).attr('y', -23).attr('width', 131).attr('height', 46)
  .attr('fill', d => colors[d]);
rows.append('text')
  .attr('x', 3891).attr('y', 23)
  .attr('font-size', 64).attr('fill', '#000')
  .text(d => d);
</script>
</body>
</html>
